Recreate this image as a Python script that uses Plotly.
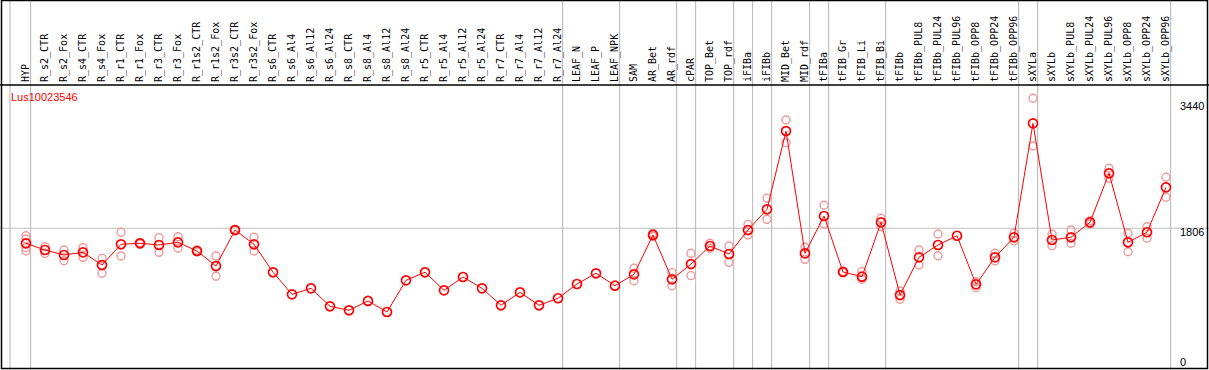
import plotly.graph_objects as go

W, H = 1209, 370

gene = "Lus10023546"

categories = [
    "HYP", "R_s2_CTR", "R_s2_Fox", "R_s4_CTR", "R_s4_Fox", "R_r1_CTR", "R_r1_Fox",
    "R_r3_CTR", "R_r3_Fox", "R_r1s2_CTR", "R_r1s2_Fox", "R_r3s2_CTR", "R_r3s2_Fox",
    "R_s6_CTR", "R_s6_Al4", "R_s6_Al12", "R_s6_Al24", "R_s8_CTR", "R_s8_Al4",
    "R_s8_Al12", "R_s8_Al24", "R_r5_CTR", "R_r5_Al4", "R_r5_Al12", "R_r5_Al24",
    "R_r7_CTR", "R_r7_Al4", "R_r7_Al12", "R_r7_Al24", "LEAF_N", "LEAF_P", "LEAF_NPK",
    "SAM", "AR_Bet", "AR_rdf", "cPAR", "TOP_Bet", "TOP_rdf", "iFIBa", "iFIBb",
    "MID_Bet", "MID_rdf", "tFIBa", "tFIB_Gr", "tFIB_Li", "tFIB_Bi", "tFIBb",
    "tFIBb_PUL8", "tFIBb_PUL24", "tFIBb_PUL96", "tFIBb_OPP8", "tFIBb_OPP24",
    "tFIBb_OPP96", "sXYLa", "sXYLb", "sXYLb_PUL8", "sXYLb_PUL24", "sXYLb_PUL96",
    "sXYLb_OPP8", "sXYLb_OPP24", "sXYLb_OPP96",
]

means = [
    1611, 1524, 1459, 1494, 1329, 1598, 1611, 1589, 1624, 1511, 1316, 1783, 1598,
    1235, 949, 1027, 794, 742, 863, 720, 1131, 1235, 1001, 1174, 1027,
    807, 975, 807, 898, 1083, 1222, 1061,
    1209, 1719, 1144, 1342, 1576, 1472, 1783, 2052,
    3067, 1481, 1965, 1239, 1178, 1883, 940,
    1429, 1589, 1709, 1079, 1429, 1689,
    3167, 1654, 1689, 1883, 2519, 1624, 1754, 2337,
]

rep_hi = [
    1709, 1567, 1524, 1554, 1416, 1754, 1620, 1684, 1696, 1524, 1446, 1790, 1689,
    None, None, None, None, None, None, None, None, None, None, None, None,
    None, None, None, None, None, None, None,
    1287, 1740, 1230, 1481, 1611, 1576, 1857, 2195,
    3210, 1559, 2104, 1245, 1243, 1935, 992,
    1524, 1732, None, 1113, 1481, 1741,
    3492, 1728, 1783, 1904, 2584, 1741, 1826, 2467,
]

rep_lo = [
    1511, 1481, 1385, 1429, 1222, 1446, 1600, 1494, 1546, 1498, 1183, 1775, 1511,
    None, None, None, None, None, None, None, None, None, None, None, None,
    None, None, None, None, None, None, None,
    1126, 1700, 1061, 1191, 1546, 1364, 1719, 1922,
    2916, 1403, 1861, 1232, 1144, 1826, 885,
    1329, 1450, None, 1035, 1381, 1641,
    2873, 1580, 1611, 1861, 2454, 1502, 1676, 2208,
]

rep_extra = {"HYP": [1667, 1554]}

# categories after which a group separator is drawn
group_ends = ["HYP", "R_r7_Al24", "LEAF_NPK", "AR_rdf", "cPAR", "TOP_rdf", "iFIBa",
              "iFIBb", "MID_rdf", "tFIBa", "tFIB_Bi", "tFIBb_OPP96", "sXYLa",
              "sXYLb_OPP96"]

y_ticks = [3440, 1806, 0]

# ---------------------------------------------------------------
RED = "#ff0000"
PINK = "#ec9a9a"
GRID = "#c0c0c0"

idx = {c: i for i, c in enumerate(categories)}

rx, ry = [], []
for c, a, b in zip(categories, rep_hi, rep_lo):
    for v in (a, b):
        if v is not None:
            rx.append(c)
            ry.append(v)
for c, vals in rep_extra.items():
    for v in vals:
        rx.append(c)
        ry.append(v)

fig = go.Figure()
fig.add_trace(go.Scatter(
    x=rx, y=ry, mode="markers",
    marker=dict(symbol="circle-open", size=8, color=PINK, line=dict(width=1.4, color=PINK)),
    hoverinfo="skip", showlegend=False,
))
fig.add_trace(go.Scatter(
    x=categories, y=means, mode="lines+markers",
    line=dict(color=RED, width=1),
    marker=dict(symbol="circle-open", size=9, color=RED, line=dict(width=1.7, color=RED)),
    showlegend=False,
))

# pixel geometry
x_first_px, x_step_px = 26.0, 19.0
r0 = -x_first_px / x_step_px
r1 = r0 + W / x_step_px
top_px, bot_px = 85.0, 368.0
y_zero_px, px_per_unit = 367.5, 0.0771
y_lo = (y_zero_px - bot_px) / px_per_unit
y_hi = (y_zero_px - top_px) / px_per_unit

shapes = []
# group separators
sep_x = [-0.84] + [idx[c] + 0.24 for c in group_ends]
for sx in sep_x:
    shapes.append(dict(type="line", xref="x", yref="paper", x0=sx, x1=sx, y0=0, y1=1,
                       line=dict(color=GRID, width=1.2), layer="below"))
# horizontal grid at the middle tick
shapes.append(dict(type="line", xref="paper", yref="y", x0=0, x1=1, y0=y_ticks[1], y1=y_ticks[1],
                   line=dict(color=GRID, width=1.2), layer="below"))
# frame
shapes.append(dict(type="rect", xref="paper", yref="paper",
                   x0=1.5 / W, x1=1207.5 / W, y0=1 - 368.5 / H, y1=1 - 0.5 / H,
                   line=dict(color="black", width=1.5), layer="above"))
shapes.append(dict(type="line", xref="paper", yref="paper",
                   x0=0, x1=1, y0=1 - top_px / H, y1=1 - top_px / H,
                   line=dict(color="black", width=1.5), layer="above"))

annotations = [dict(text=gene, xref="paper", yref="paper", x=8.5 / W, y=1 - 97.5 / H,
                    xanchor="left", yanchor="middle", showarrow=False,
                    font=dict(family="Liberation Sans", size=11, color=RED))]
for t in y_ticks:
    annotations.append(dict(text=str(t), xref="paper", yref="y", x=1177.5 / W, y=t,
                            xanchor="left", yanchor="top", showarrow=False,
                            yshift=4 if t else 14,
                            font=dict(family="Liberation Sans", size=11, color="black")))

fig.update_layout(
    width=W, height=H,
    margin=dict(l=0, r=0, t=0, b=0),
    paper_bgcolor="white", plot_bgcolor="white",
    shapes=shapes, annotations=annotations,
    xaxis=dict(type="category", categoryorder="array", categoryarray=categories,
               range=[r0, r1], side="top", tickangle=-90,
               showgrid=False, zeroline=False, showline=False, ticks="",
               tickfont=dict(family="DejaVu Sans Mono", size=10, color="black"),
               ticklabelstandoff=2, domain=[0, 1]),
    yaxis=dict(range=[y_lo, y_hi], domain=[1 - bot_px / H, 1 - top_px / H],
               showgrid=False, zeroline=False, showline=False, showticklabels=False, ticks=""),
)

fig.write_html("out.html", config={"displayModeBar": False},
               post_script="document.body.style.margin='0';document.body.style.overflow='hidden';")
